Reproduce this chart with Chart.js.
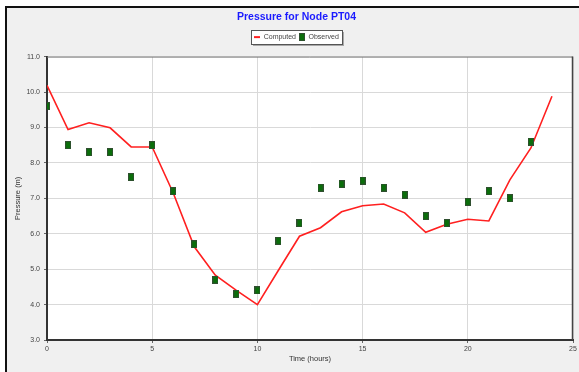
<!DOCTYPE html>
<html lang="en">
<head>
    <meta charset="UTF-8">
    <title>Pressure for Node PT04</title>
    <script src="https://cdn.jsdelivr.net/npm/chart.js"></script>
    <style>
        html, body { margin: 0; padding: 0; background: #fff; }
        canvas { display: block; }
    </style>
</head>
<body>
    <canvas id="pressureChart" width="579" height="372"></canvas>

    <script>
        // hours 0..24 for the model, 0..23 for field readings
        const computedHours = [0, 1, 2, 3, 4, 5, 6, 7, 8, 9, 10, 11, 12, 13, 14, 15, 16, 17, 18, 19, 20, 21, 22, 23, 24];
        const computedPressure = [10.19, 8.94, 9.13, 8.99, 8.45, 8.45, 7.15, 5.63, 4.83, 4.40, 4.00, 4.97, 5.93, 6.17, 6.62, 6.79, 6.84, 6.59, 6.04, 6.27, 6.41, 6.36, 7.52, 8.42, 9.88];

        const observedHours = [0, 1, 2, 3, 4, 5, 6, 7, 8, 9, 10, 11, 12, 13, 14, 15, 16, 17, 18, 19, 20, 21, 22, 23];
        const observedPressure = [9.6, 8.5, 8.3, 8.3, 7.6, 8.5, 7.2, 5.7, 4.7, 4.3, 4.4, 5.8, 6.3, 7.3, 7.4, 7.5, 7.3, 7.1, 6.5, 6.3, 6.9, 7.2, 7.0, 8.6];

        const xTicks = [0, 5, 10, 15, 20, 25];

        const plain = 'Liberation Sans, Arial, sans-serif';

        // little green block used for observed points
        const marker = document.createElement('canvas');
        marker.width = 6;
        marker.height = 8;
        const mctx = marker.getContext('2d');
        mctx.fillStyle = '#2f4f2f';
        mctx.fillRect(0, 0, 6, 8);
        mctx.fillStyle = '#0a6e0a';
        mctx.fillRect(1, 1, 4, 6);

        // short red dash for the legend
        const dash = document.createElement('canvas');
        dash.width = 6;
        dash.height = 8;
        const dctx = dash.getContext('2d');
        dctx.fillStyle = '#ff2020';
        dctx.fillRect(0, 3, 6, 2);

        // extra gap between legend and plot
        const spacer = {
            position: 'top', weight: 1, fullSize: true, options: {},
            width: 0, height: 0, top: 0, left: 0, right: 0, bottom: 0,
            isHorizontal() { return true; },
            update(maxWidth) { this.width = maxWidth; this.height = 6; },
            draw() {}
        };

        const framePlugin = {
            id: 'frame',
            beforeInit(chart) {
                Chart.layouts.addBox(chart, spacer);
            },
            afterLayout(chart) {
                // title and legend sit a little right of centre in the original
                [chart.titleBlock, chart.legend].forEach(b => {
                    if (b) { b.left += 5; b.right += 5; }
                });
            },
            beforeDraw(chart) {
                const ctx = chart.ctx;
                const a = chart.chartArea;
                ctx.save();
                ctx.fillStyle = '#ffffff';
                ctx.fillRect(0, 0, chart.width, chart.height);
                ctx.fillStyle = '#f0f0f0';
                ctx.fillRect(6, 7, chart.width, chart.height);
                ctx.strokeStyle = '#111';
                ctx.lineWidth = 2;
                ctx.beginPath();
                ctx.moveTo(6, chart.height + 2);
                ctx.lineTo(6, 7);
                ctx.lineTo(chart.width + 2, 7);
                ctx.stroke();
                ctx.fillStyle = '#ffffff';
                ctx.fillRect(a.left, a.top, a.right - a.left, a.bottom - a.top);

                // box round the legend, drawn before the legend itself
                const boxes = chart.legend.legendHitBoxes;
                if (boxes && boxes.length) {
                    let l = Infinity, r = -Infinity, t = Infinity, b = -Infinity;
                    boxes.forEach(h => {
                        l = Math.min(l, h.left); r = Math.max(r, h.left + h.width);
                        t = Math.min(t, h.top); b = Math.max(b, h.top + h.height);
                    });
                    l = Math.round(l - 3); r = Math.round(r + 3); t = Math.round(t - 4); b = Math.round(b + 3);
                    ctx.fillStyle = '#a8a8a8';
                    ctx.fillRect(l + 2, t + 2, r - l, b - t);
                    ctx.fillStyle = '#ffffff';
                    ctx.fillRect(l, t, r - l, b - t);
                    ctx.strokeStyle = '#555';
                    ctx.lineWidth = 1;
                    ctx.strokeRect(l + 0.5, t + 0.5, r - l, b - t);
                }
                ctx.restore();
            },
            afterDraw(chart) {
                const ctx = chart.ctx;
                const a = chart.chartArea;
                ctx.save();
                ctx.strokeStyle = '#777';
                ctx.lineWidth = 1;
                ctx.beginPath();
                ctx.moveTo(a.left, a.top + 0.5);
                ctx.lineTo(a.right - 0.5, a.top + 0.5);
                ctx.stroke();
                ctx.strokeStyle = '#444';
                ctx.lineWidth = 1.5;
                ctx.beginPath();
                ctx.moveTo(a.right - 0.5, a.top);
                ctx.lineTo(a.right - 0.5, a.bottom);
                ctx.stroke();
                ctx.restore();
            }
        };

        const ctx = document.getElementById('pressureChart').getContext('2d');
        new Chart(ctx, {
            type: 'line',
            data: {
                datasets: [
                    {
                        label: 'Computed',
                        data: computedHours.map((h, i) => ({ x: h, y: computedPressure[i] })),
                        borderColor: '#ff2020',
                        backgroundColor: '#ff2020',
                        borderWidth: 1.6,
                        pointRadius: 0,
                        pointStyle: dash,
                        tension: 0,
                        order: 2
                    },
                    {
                        label: 'Observed',
                        data: observedHours.map((h, i) => ({ x: h, y: observedPressure[i] })),
                        showLine: false,
                        pointStyle: marker,
                        pointRadius: 5,
                        borderColor: '#2f4f2f',
                        backgroundColor: '#0a6e0a',
                        order: 1
                    }
                ]
            },
            options: {
                responsive: false,
                animation: false,
                devicePixelRatio: 1,
                layout: { padding: { left: 8, right: 4, top: 7, bottom: 4 } },
                plugins: {
                    title: {
                        display: true,
                        text: 'Pressure for Node PT04',
                        color: '#1a1aff',
                        font: { family: plain, size: 10.5, weight: 'bold' },
                        padding: { top: 4, bottom: 7 }
                    },
                    legend: {
                        position: 'top',
                        labels: {
                            usePointStyle: true,
                            pointStyleWidth: 6,
                            boxWidth: 6,
                            boxHeight: 8,
                            padding: 3,
                            color: '#444',
                            font: { family: plain, size: 7 },
                            sort: (a, b) => a.datasetIndex - b.datasetIndex
                        }
                    },
                    tooltip: { enabled: false }
                },
                scales: {
                    x: {
                        type: 'linear',
                        min: 0,
                        max: 25,
                        afterFit(scale) { scale.height = 28; },
                        afterBuildTicks(scale) { scale.ticks = xTicks.map(v => ({ value: v })); },
                        ticks: {
                            color: '#444',
                            padding: 2,
                            maxRotation: 0,
                            font: { family: plain, size: 7 }
                        },
                        grid: { color: '#d9d9d9', tickColor: '#666', tickLength: 3 },
                        border: { color: '#333', width: 2 },
                        title: {
                            display: true,
                            text: 'Time (hours)',
                            color: '#333',
                            padding: { top: 0, bottom: 5 },
                            font: { family: plain, size: 7.5 }
                        }
                    },
                    y: {
                        min: 3,
                        max: 11,
                        afterFit(scale) { scale.width = 39; },
                        ticks: {
                            stepSize: 1,
                            color: '#444',
                            padding: 4,
                            font: { family: plain, size: 7 },
                            callback: v => v.toFixed(1)
                        },
                        grid: { color: '#d9d9d9', tickColor: '#666', tickLength: 3 },
                        border: { color: '#333', width: 2 },
                        title: {
                            display: true,
                            text: 'Pressure (m)',
                            color: '#333',
                            padding: { top: 5, bottom: 0 },
                            font: { family: plain, size: 7.5 }
                        }
                    }
                }
            },
            plugins: [framePlugin]
        });
    </script>
</body>
</html>
